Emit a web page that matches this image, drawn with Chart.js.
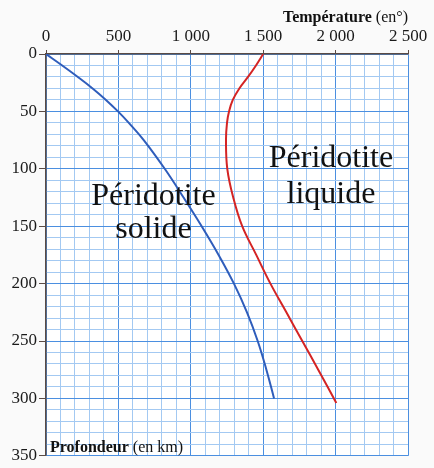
<!DOCTYPE html>
<html>
<head>
<meta charset="utf-8">
<script src="https://cdn.jsdelivr.net/npm/chart.js@4/dist/chart.umd.min.js"></script>
<style>
  html, body { margin: 0; padding: 0; background: #fafafa; }
  #wrap { width: 434px; height: 468px; }
</style>
</head>
<body>
<div id="wrap"><canvas id="chart" width="434" height="468"></canvas></div>
<script>
// --- DONNÉES ---
// température (°C) en fonction de la profondeur (km)
const solidusTemp  = [0, 112, 220, 322, 414, 497, 572, 675, 820, 950, 1075, 1192, 1298, 1388, 1462, 1522, 1575];
const solidusDepth = [0, 10, 20, 30, 40, 50, 60, 75, 100, 125, 150, 175, 200, 225, 250, 275, 300];

const liquidusTemp  = [1500, 1450, 1395, 1335, 1290, 1264, 1250, 1243, 1252, 1293, 1355, 1452, 1550, 1660, 1770, 1880, 2005];
const liquidusDepth = [0, 10, 20, 30, 40, 50, 60, 75, 100, 125, 150, 175, 200, 225, 250, 275, 304];

const xTickStep = 100, xMajorStep = 500;
const yTickStep = 10, yMajorStep = 50;

// étiquettes des zones : [lignes, température du centre, profondeur de la ligne de base]
const zoneLabels = [
    { lines: ['Péridotite', 'solide'], x: 742, y: [131.4, 160.4] },
    { lines: ['Péridotite', 'liquide'], x: 1968, y: [98.6, 129.7] }
];

const toPoints = (xs, ys) => xs.map((x, i) => ({ x: x, y: ys[i] }));

const SERIF = "'Liberation Serif', 'DejaVu Serif', serif";
const MINOR = '#a3c9f2';
const MAJOR = '#4b8fe0';
const AXIS = '#5a4b45';

function frNumber(v) {
    return String(v).replace(/\B(?=(\d{3})+(?!\d))/g, ' ');
}

// fond + textes
const decorPlugin = {
    id: 'decor',
    beforeDraw(chart) {
        const { ctx, chartArea: a } = chart;
        ctx.save();
        ctx.fillStyle = '#ffffff';
        ctx.fillRect(a.left, a.top, a.right - a.left, a.bottom - a.top);
        ctx.restore();
    },
    afterDatasetsDraw(chart) {
        const { ctx, scales } = chart;
        ctx.save();
        ctx.fillStyle = '#111';
        ctx.textBaseline = 'alphabetic';

        // titre de l'axe des températures
        ctx.font = 'bold 16px ' + SERIF;
        const w1 = ctx.measureText('Température ').width;
        ctx.font = '16px ' + SERIF;
        const w2 = ctx.measureText('(en°)').width;
        const right = scales.x.right;
        ctx.textAlign = 'left';
        ctx.font = 'bold 16px ' + SERIF;
        ctx.fillText('Température', right - w1 - w2, 22);
        ctx.font = '16px ' + SERIF;
        ctx.fillText('(en°)', right - w2, 22);

        // titre de l'axe des profondeurs
        const left = scales.y.right + 4;
        const base = scales.y.bottom - 4;
        ctx.font = 'bold 16px ' + SERIF;
        ctx.fillText('Profondeur', left, base);
        const w3 = ctx.measureText('Profondeur ').width;
        ctx.font = '16px ' + SERIF;
        ctx.fillText('(en km)', left + w3, base);

        // zones
        ctx.font = '32px ' + SERIF;
        ctx.textAlign = 'center';
        zoneLabels.forEach(z => {
            z.lines.forEach((t, i) => {
                ctx.fillText(t, scales.x.getPixelForValue(z.x), scales.y.getPixelForValue(z.y[i]));
            });
        });
        ctx.restore();
    }
};

const ctx = document.getElementById('chart').getContext('2d');
new Chart(ctx, {
    type: 'scatter',
    data: {
        datasets: [
            {
                label: 'Solidus',
                data: toPoints(solidusTemp, solidusDepth),
                showLine: true,
                borderColor: '#2f5dbb',
                borderWidth: 2,
                pointRadius: 0,
                tension: 0.4
            },
            {
                label: 'Liquidus',
                data: toPoints(liquidusTemp, liquidusDepth),
                showLine: true,
                borderColor: '#d42424',
                borderWidth: 2,
                pointRadius: 0,
                tension: 0.4
            }
        ]
    },
    options: {
        responsive: false,
        animation: false,
        layout: { padding: { left: 0, top: 0, right: 26, bottom: 9 } },
        plugins: {
            legend: { display: false },
            tooltip: { enabled: false }
        },
        scales: {
            x: {
                type: 'linear',
                position: 'top',
                min: 0,
                max: 2500,
                afterFit(scale) { scale.height = 54; },
                border: { color: AXIS, width: 1.5 },
                grid: {
                    color: c => c.tick.value % xMajorStep === 0 ? MAJOR : MINOR,
                    tickColor: c => c.tick.value % xMajorStep === 0 ? AXIS : 'rgba(0,0,0,0)',
                    tickLength: 4,
                    lineWidth: 1
                },
                ticks: {
                    stepSize: xTickStep,
                    autoSkip: false,
                    maxRotation: 0,
                    padding: 3,
                    color: '#1a1a1a',
                    font: { family: SERIF, size: 17 },
                    callback: v => v % xMajorStep === 0 ? frNumber(v) : ''
                }
            },
            y: {
                type: 'linear',
                position: 'left',
                reverse: true,
                min: 0,
                max: 350,
                afterFit(scale) { scale.width = 46; },
                border: { color: AXIS, width: 1.5 },
                grid: {
                    color: c => c.tick.value % yMajorStep === 0 ? MAJOR : MINOR,
                    tickColor: c => c.tick.value % yMajorStep === 0 ? AXIS : 'rgba(0,0,0,0)',
                    tickLength: 7,
                    lineWidth: 1
                },
                ticks: {
                    stepSize: yTickStep,
                    autoSkip: false,
                    padding: 2,
                    color: '#1a1a1a',
                    font: { family: SERIF, size: 17 },
                    callback: v => v % yMajorStep === 0 ? String(v) : ''
                }
            }
        }
    },
    plugins: [decorPlugin]
});
</script>
</body>
</html>
